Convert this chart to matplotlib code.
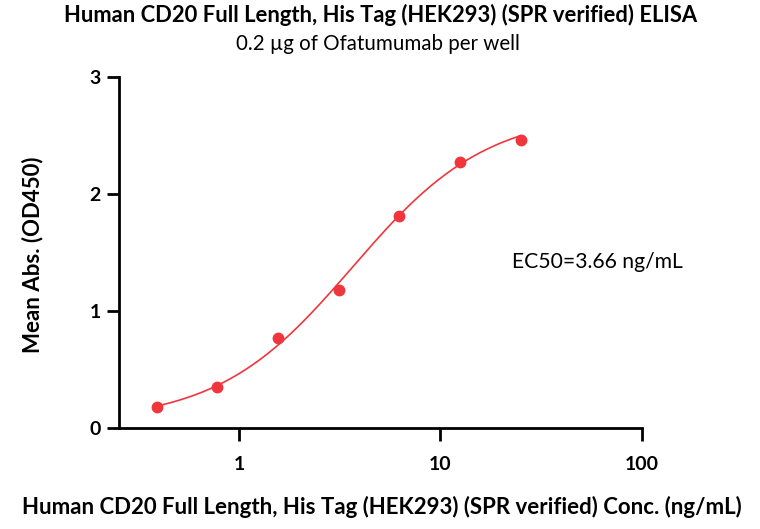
import numpy as np
import matplotlib
matplotlib.use('Agg')
import matplotlib.pyplot as plt
from matplotlib.ticker import FixedLocator, NullLocator

# measured points
conc = [0.39, 0.78, 1.56, 3.125, 6.25, 12.5, 25]
absorb = [0.18, 0.35, 0.77, 1.18, 1.81, 2.27, 2.46]

# 4PL fit parameters
bottom = 0.05
top = 2.70
ec50 = 3.66
hill = 1.3

xticks = [1, 10, 100]
xticklabels = ['1', '10', '100']
yticks = [0, 1, 2, 3]

red = '#F0363D'
plt.rcParams['font.family'] = ['Lato', 'DejaVu Sans']

fig = plt.figure(figsize=(7.6, 5.29), dpi=100)
ax = fig.add_axes([119/760, 1-428/529, (642-119)/760, (428-77)/529])

xfit = np.logspace(np.log10(conc[0]), np.log10(conc[-1]), 200)
yfit = bottom + (top - bottom) / (1 + (ec50 / xfit) ** hill)
ax.plot(xfit, yfit, color=red, lw=1.2, zorder=2)
ax.plot(conc, absorb, 'o', color=red, ms=7.5, zorder=3, clip_on=False)

ax.set_xscale('log')
ax.set_xlim(0.254, 100)
ax.set_ylim(0, 3)
ax.xaxis.set_major_locator(FixedLocator(xticks))
ax.xaxis.set_minor_locator(NullLocator())
ax.set_xticklabels(xticklabels)
ax.set_yticks(yticks)

for s in ['top', 'right']:
    ax.spines[s].set_visible(False)
for s in ['left', 'bottom']:
    ax.spines[s].set_linewidth(2)
ax.tick_params(width=2, length=9, labelsize=14, pad=4)
for lab in ax.get_xticklabels() + ax.get_yticklabels():
    lab.set_fontweight('bold')
ax.tick_params(axis='x', pad=11)

fig.text(381/760, 1-15/529, 'Human CD20 Full Length, His Tag (HEK293) (SPR verified) ELISA',
         ha='center', va='center', fontsize=15.8, fontweight='bold')
fig.text(378/760, 1-44/529, '0.2 \u00b5g of Ofatumumab per well',
         ha='center', va='center', fontsize=14.8)
fig.text(382/760, 1-507/529, 'Human CD20 Full Length, His Tag (HEK293) (SPR verified) Conc. (ng/mL)',
         ha='center', va='center', fontsize=16, fontweight='bold')
fig.text(33/760, 1-255/529, 'Mean Abs. (OD450)', rotation=90,
         ha='center', va='center', fontsize=16, fontweight='bold')
ax.text(22.6, 1.42, 'EC50=3.66 ng/mL', ha='left', va='center', fontsize=15.2)

fig.savefig('out.png', dpi=100, facecolor='white')
